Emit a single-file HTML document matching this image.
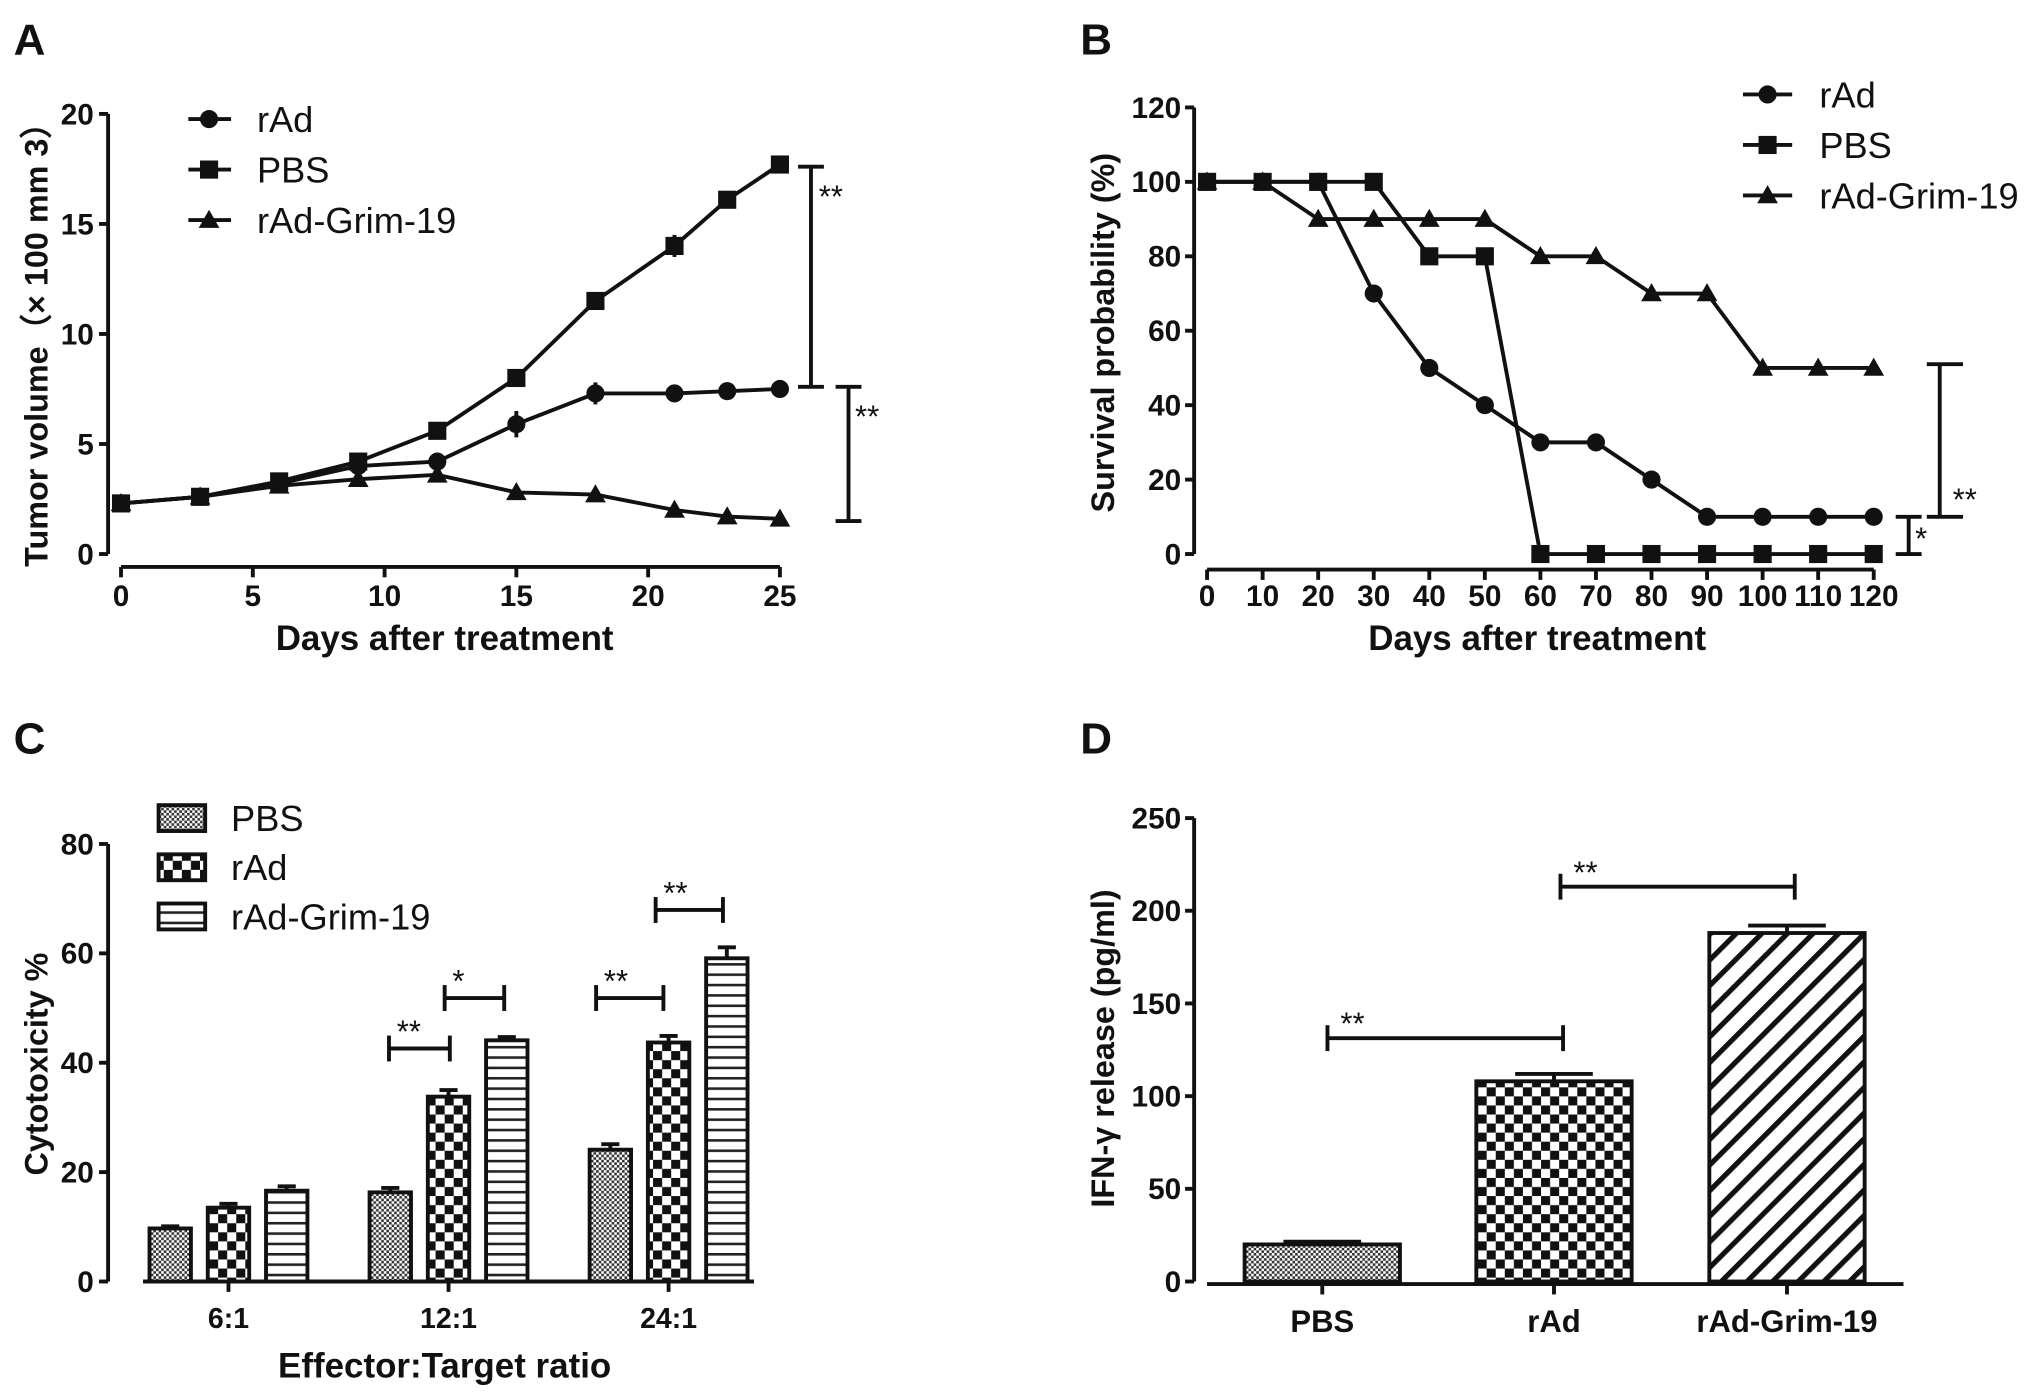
<!DOCTYPE html>
<html><head><meta charset="utf-8"><style>
html,body{margin:0;padding:0;background:#fff;}
svg{display:block;font-family:"Liberation Sans",sans-serif;}
</style></head><body>
<svg id="fig" width="2031" height="1398" viewBox="0 0 1568 1080" xmlns="http://www.w3.org/2000/svg">
<defs>
<pattern id="pPBS" width="4" height="4" patternUnits="userSpaceOnUse"><rect width="4" height="4" fill="#fff"/><rect width="2" height="2" fill="#333"/><rect x="2" y="2" width="2" height="2" fill="#333"/></pattern>
<pattern id="pRAD" width="14" height="14" patternUnits="userSpaceOnUse"><rect width="14" height="14" fill="#fff"/><rect width="7" height="7" fill="#111"/><rect x="7" y="7" width="7" height="7" fill="#111"/></pattern>
<pattern id="pGRIM" width="8" height="8" patternUnits="userSpaceOnUse"><rect width="8" height="8" fill="#fff"/><rect y="0" width="8" height="2" fill="#222"/></pattern>
<pattern id="pDIAG" width="14" height="14" patternUnits="userSpaceOnUse" patternTransform="rotate(45)"><rect width="14" height="14" fill="#fff"/><rect width="4" height="14" fill="#111"/></pattern>
</defs>
<g id="root"></g>
</svg>
<script>
// Panel A data
const aDays=[0,3,6,9,12,15,18,21,23,25];
const aPBS=[2.3,2.6,3.3,4.2,5.6,8.0,11.5,14.0,16.1,17.7];
const aRAd=[2.3,2.6,3.2,4.0,4.2,5.9,7.3,7.3,7.4,7.5];
const aGrim=[2.3,2.6,3.1,3.4,3.6,2.8,2.7,2.0,1.7,1.6];
const aErrRAd=[0.1,0.1,0.2,0.2,0.2,0.6,0.5,0.2,0.1,0.1];
const aErrPBS=[0.1,0.1,0.1,0.2,0.2,0.2,0.2,0.5,0.1,0.1];
const aYTicks=[0,5,10,15,20];
const aXTicks=[0,5,10,15,20,25];
// Panel B data
const bDays=[0,10,20,30,40,50,60,70,80,90,100,110,120];
const bRAd=[100,100,100,70,50,40,30,30,20,10,10,10,10];
const bPBS=[100,100,100,100,80,80,0,0,0,0,0,0,0];
const bGrim=[100,100,90,90,90,90,80,80,70,70,50,50,50];
const bYTicks=[0,20,40,60,80,100,120];
// Panel C data
const cCats=["6:1","12:1","24:1"];
const cPBS=[9.7,16.3,24.1];
const cRAd=[13.5,33.8,43.7];
const cGrim=[16.6,44.1,59.1];
const cErr=[[0.4,0.8,1.0],[0.7,1.2,1.2],[0.8,0.6,2.0]];
const cYTicks=[0,20,40,60,80];
// Panel D data
const dCats=["PBS","rAd","rAd-Grim-19"];
const dVals=[20,108,188];
const dErr=[1.5,4,4];
const dYTicks=[0,50,100,150,200,250];

const NS="http://www.w3.org/2000/svg";
const root=document.getElementById('root');
const TK=23, XT=27, YT=25, LG=28;
function el(tag,attrs,parent,text){const e=document.createElementNS(NS,tag);for(const k in attrs)e.setAttribute(k,attrs[k]);if(text!==undefined)e.textContent=text;(parent||root).appendChild(e);return e;}
function line(x1,y1,x2,y2,w,p){return el('line',{x1,y1,x2,y2,stroke:'#111','stroke-width':w||3},p);}
function marker(kind,x,y,p){
  if(kind==='c')return el('circle',{cx:x,cy:y,r:7,fill:'#111'},p);
  if(kind==='s')return el('rect',{x:x-7,y:y-7,width:14,height:14,fill:'#111'},p);
  return el('polygon',{points:`${x},${y-8} ${x+8},${y+6} ${x-8},${y+6}`,fill:'#111'},p);
}
function txt(x,y,s,size,opts,p){const a=Object.assign({x,y,'font-size':size,fill:'#111'},opts||{});return el('text',a,p,s);}

[['A',10,42],['B',834,42],['C',10,582],['D',834,582]].forEach(([l,x,y])=>{const t=txt(x,y,l,34,{'font-weight':'bold'});});

// ---------- Panel A ----------
(function(){
const g=el('g',{});
const xs=d=>93+d*(602-93)/25, ys=v=>428-v*(428-88)/20;
line(83,88,83,428,3,g);line(93,438,602,438,3,g);
aYTicks.forEach(v=>{line(76,ys(v),83,ys(v),3,g);txt(72,ys(v)+8,v,TK,{'text-anchor':'end','font-weight':'bold'},g);});
aXTicks.forEach(v=>{line(xs(v),438,xs(v),446,3,g);txt(xs(v),468,v,TK,{'text-anchor':'middle','font-weight':'bold'},g);});
txt(343,502,'Days after treatment',XT,{'text-anchor':'middle','font-weight':'bold'},g);
txt(0,0,'Tumor volume（× 100 mm 3）',YT,{'text-anchor':'middle','font-weight':'bold',transform:'translate(36,260) rotate(-90)'},g);
const series=[[aPBS,'s',aErrPBS,'pbs'],[aRAd,'c',aErrRAd,'rad'],[aGrim,'t',null,'grim']];
series.forEach(([vals,k,err,n])=>{
  const pts=vals.map((v,i)=>xs(aDays[i])+','+ys(v)).join(' ');
  const pl=el('polyline',{points:pts,fill:'none',stroke:'#111','stroke-width':3},g);
  vals.forEach((v,i)=>{if(err){line(xs(aDays[i]),ys(v+err[i]),xs(aDays[i]),ys(v-err[i]),3,g);}const m=marker(k,xs(aDays[i]),ys(v),g);});
});
[['c',92,'rAd'],['s',131,'PBS'],['t',170,'rAd-Grim-19']].forEach(([k,y,s])=>{line(145,y,178,y,3,g);marker(k,161,y,g);const t=txt(198,y+10,s,LG,{},g);});
line(626,ys(17.6),626,ys(7.6),3,g);line(616,ys(17.6),636,ys(17.6),3,g);line(616,ys(7.6),636,ys(7.6),3,g);
txt(632,160,'**',24,{},g);
line(655,ys(7.6),655,ys(1.5),3,g);line(645,ys(7.6),665,ys(7.6),3,g);line(645,ys(1.5),665,ys(1.5),3,g);
txt(660,330,'**',24,{},g);
})();

// ---------- Panel B ----------
(function(){
const g=el('g',{});
const xs=d=>932+d*(1447-932)/120, ys=v=>428-v*(428-83)/120;
line(922,83,922,428,3,g);line(932,440,1447,440,3,g);
bYTicks.forEach(v=>{line(915,ys(v),922,ys(v),3,g);txt(912,ys(v)+8,v,TK,{'text-anchor':'end','font-weight':'bold'},g);});
bDays.forEach(v=>{line(xs(v),440,xs(v),448,3,g);txt(xs(v),468,v,TK,{'text-anchor':'middle','font-weight':'bold'},g);});
txt(1187,502,'Days after treatment',XT,{'text-anchor':'middle','font-weight':'bold'},g);
txt(0,0,'Survival probability (%)',YT,{'text-anchor':'middle','font-weight':'bold',transform:'translate(860,257) rotate(-90)'},g);
[[bRAd,'c','rad'],[bPBS,'s','pbs'],[bGrim,'t','grim']].forEach(([vals,k,n])=>{
  const pts=vals.map((v,i)=>xs(bDays[i])+','+ys(v)).join(' ');
  const pl=el('polyline',{points:pts,fill:'none',stroke:'#111','stroke-width':3},g);
  vals.forEach((v,i)=>{const m=marker(k,xs(bDays[i]),ys(v),g);});
});
[['c',73,'rAd'],['s',112,'PBS'],['t',151,'rAd-Grim-19']].forEach(([k,y,s])=>{line(1346,y,1384,y,3,g);marker(k,1365,y,g);const t=txt(1405,y+10,s,LG,{},g);});
line(1498,ys(51),1498,ys(10),3,g);line(1488,ys(51),1516,ys(51),3,g);line(1488,ys(10),1516,ys(10),3,g);
txt(1508,394,'**',24,{},g);
line(1474,ys(10),1474,ys(0),3,g);line(1464,ys(10),1484,ys(10),3,g);line(1464,ys(0),1484,ys(0),3,g);
txt(1479,424,'*',24,{},g);
})();

// ---------- Panel C ----------
(function(){
const g=el('g',{});
const ys=v=>990-v*(990-652)/80;
const centers=[176,346,516], offs=[-45,0,45], bw=32;
line(83,652,83,990,3,g);line(110,990,582,990,3,g);
cYTicks.forEach(v=>{line(76,ys(v),83,ys(v),3,g);txt(72,ys(v)+8,v,TK,{'text-anchor':'end','font-weight':'bold'},g);});
cCats.forEach((c,i)=>{line(centers[i],990,centers[i],998,3,g);txt(centers[i],1026,c,TK-1,{'text-anchor':'middle','font-weight':'bold'},g);});
txt(343,1064,'Effector:Target ratio',XT,{'text-anchor':'middle','font-weight':'bold'},g);
txt(0,0,'Cytotoxicity %',YT,{'text-anchor':'middle','font-weight':'bold',transform:'translate(36,822) rotate(-90)'},g);
const ser=[[cPBS,'url(#pPBS)','pbs'],[cRAd,'url(#pRAD)','rad'],[cGrim,'url(#pGRIM)','grim']];
ser.forEach(([vals,fill,n],si)=>{vals.forEach((v,i)=>{
  const x=centers[i]+offs[si]-bw/2;
  const e=cErr[si][i];
  line(x+bw/2,ys(v+e),x+bw/2,ys(v),3,g);line(x+bw/2-7,ys(v+e),x+bw/2+7,ys(v+e),3,g);
  const r=el('rect',{x,y:ys(v),width:bw,height:990-ys(v),fill,stroke:'#111','stroke-width':3},g);
  
});});
[['url(#pPBS)',632,'PBS'],['url(#pRAD)',670,'rAd'],['url(#pGRIM)',708,'rAd-Grim-19']].forEach(([f,y,s])=>{el('rect',{x:122,y:y-10,width:36,height:20,fill:f,stroke:'#111','stroke-width':3},g);const t=txt(178,y+10,s,LG,{},g);});
function br(x1,x2,y,s){line(x1,y,x2,y,3,g);line(x1,y-10,x1,y+10,3,g);line(x2,y-10,x2,y+10,3,g);txt(x1+6,y-5,s,24,{},g);}
br(300,347,810,'**');br(343,389,771,'*');br(460,512,771,'**');br(506,558,703,'**');
})();

// ---------- Panel D ----------
(function(){
const g=el('g',{});
const ys=v=>990-v*(990-632)/250;
const centers=[1021,1200,1380], bw=120, fills=['url(#pPBS)','url(#pRAD)','url(#pDIAG)'];
line(922,632,922,990,3,g);line(932,992,1470,992,3,g);
dYTicks.forEach(v=>{line(915,ys(v),922,ys(v),3,g);txt(912,ys(v)+8,v,TK,{'text-anchor':'end','font-weight':'bold'},g);});
dCats.forEach((c,i)=>{line(centers[i],992,centers[i],1000,3,g);txt(centers[i],1029,c,24,{'text-anchor':'middle','font-weight':'bold'},g);});
txt(0,0,'IFN-γ  release (pg/ml)',YT,{'text-anchor':'middle','font-weight':'bold',transform:'translate(860,810) rotate(-90)'},g);
dVals.forEach((v,i)=>{
  const x=centers[i]-bw/2;
  line(centers[i],ys(v+dErr[i]),centers[i],ys(v),3,g);line(centers[i]-30,ys(v+dErr[i]),centers[i]+30,ys(v+dErr[i]),3,g);
  const r=el('rect',{x,y:ys(v),width:bw,height:990-ys(v),fill:fills[i],stroke:'#111','stroke-width':3},g);
  
});
function br(x1,x2,y,s){line(x1,y,x2,y,3,g);line(x1,y-10,x1,y+10,3,g);line(x2,y-10,x2,y+10,3,g);txt(x1+10,y-3,s,24,{},g);}
br(1025,1207,802,'**');br(1205,1386,685,'**');
})();
</script>
</body></html>
